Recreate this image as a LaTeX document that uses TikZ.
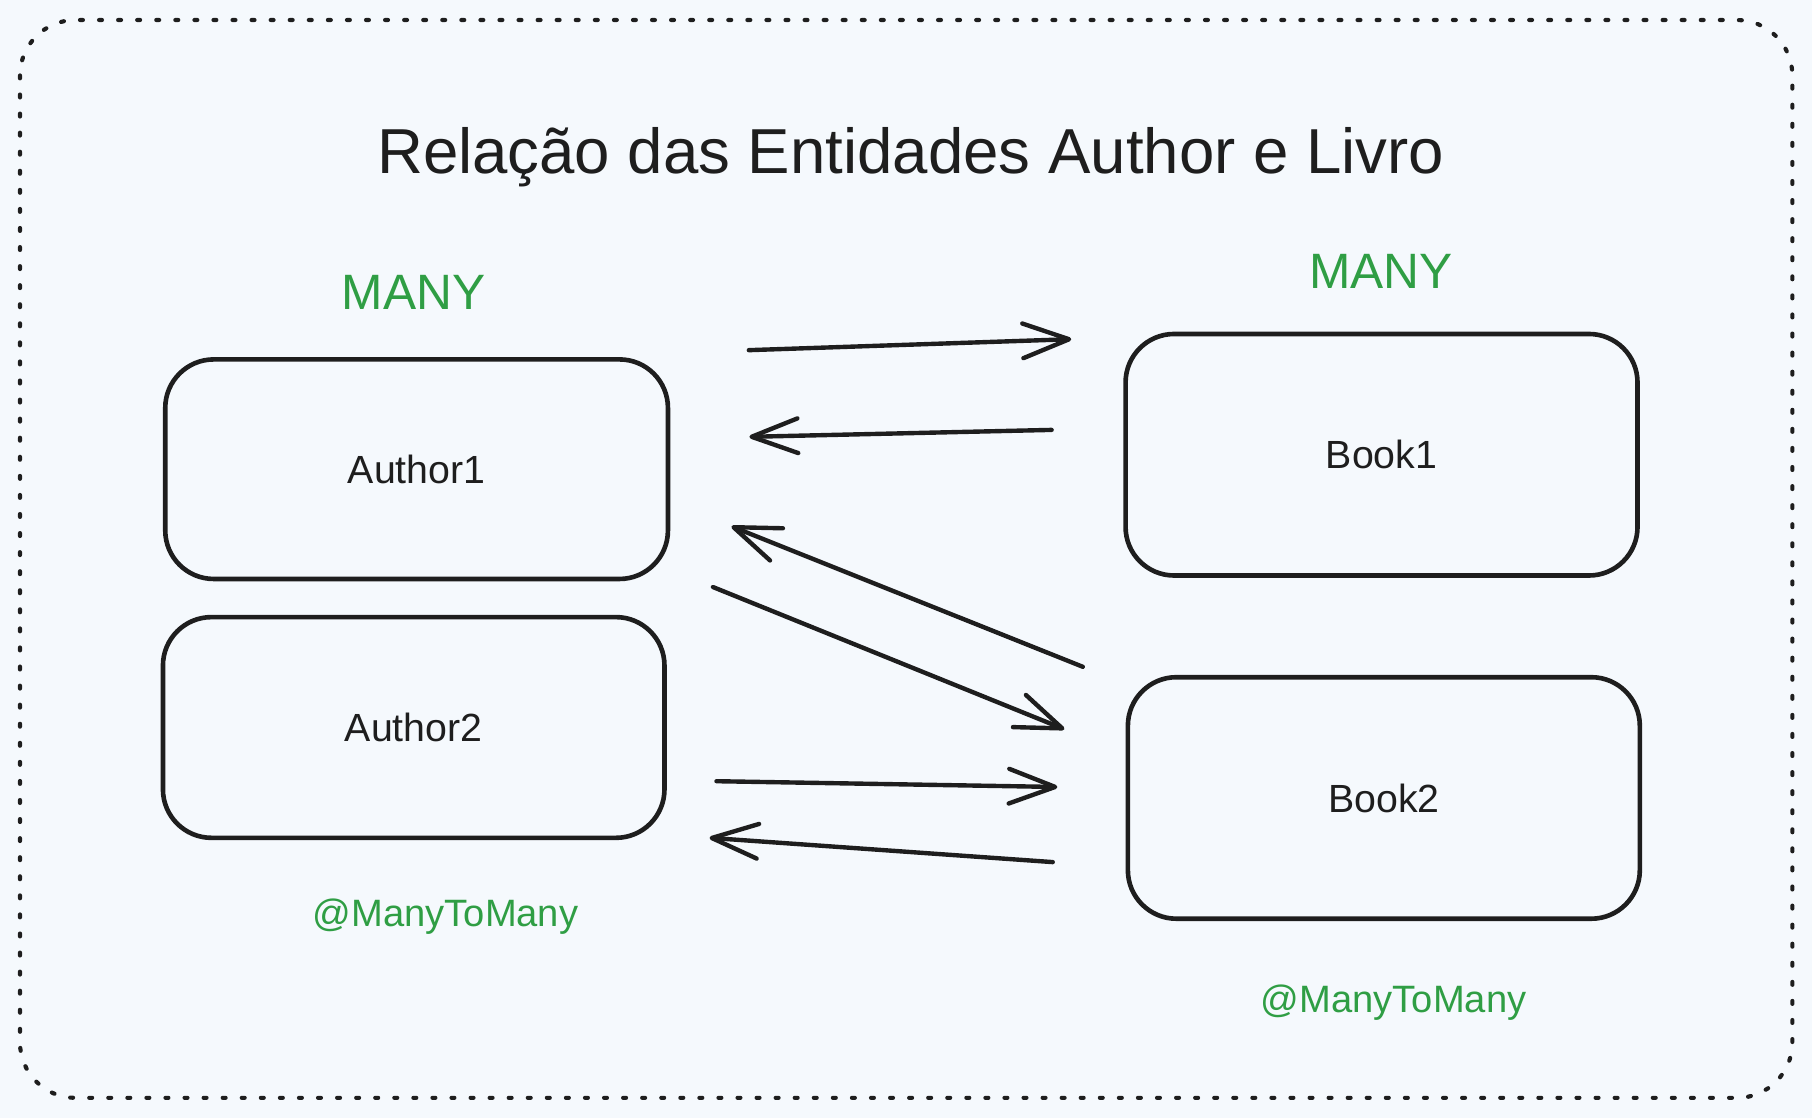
\documentclass[tikz,border=0pt]{standalone}
\usepackage{fontspec}
\setmainfont{Liberation Sans}
\usetikzlibrary{arrows.meta}
\definecolor{ink}{HTML}{1E1E1E}
\definecolor{leaf}{HTML}{2F9E44}
\definecolor{paper}{HTML}{F5F9FD}
\begin{document}
\begin{tikzpicture}[x=1pt,y=-1pt,
  entity/.style={draw=ink, line width=4pt, rounded corners=42pt,
    text=ink, font=\fontsize{34}{40}\selectfont, inner sep=0pt},
  titletext/.style={text=ink, font=\fontsize{55}{62}\selectfont, anchor=base, inner sep=0pt},
  manytext/.style={text=leaf, font=\fontsize{43}{50}\selectfont, anchor=base, inner sep=0pt},
  annot/.style={text=leaf, font=\fontsize{33}{40}\selectfont, anchor=base, inner sep=0pt},
  link/.style={draw=ink, line width=3.8pt, line cap=round, line join=round,
    -{Straight Barb[length=40pt, width=30pt, line cap=round, line join=round]}},
  frame/.style={draw=ink, line width=3.6pt, dash pattern=on 2.5pt off 14pt,
    line cap=round, rounded corners=48pt}]
  % canvas
  \fill[paper] (0,0) rectangle (1568,967.5);
  \useasboundingbox (0,0) rectangle (1568,967.5);
  \path[frame] (17.3,17.3) rectangle (1551,950);

  % title
  \node[titletext] (title) at (788,150) {Relação das Entidades Author e Livro};

  % cardinalities
  \node[manytext] (manyL) at (358,268) {MANY};
  \node[manytext] (manyR) at (1195,250) {MANY};

  % entities
  \node[entity, minimum width=435pt, minimum height=190pt] (author1) at (360.5,406) {Author1};
  \node[entity, minimum width=434pt, minimum height=191pt] (author2) at (358,629.5) {Author2};
  \node[entity, minimum width=443pt, minimum height=209pt] (book1) at (1195.5,393.5) {Book1};
  \node[entity, minimum width=443pt, minimum height=209pt] (book2) at (1197.5,690.5) {Book2};

  % annotations
  \node[annot] (annL) at (385.5,802) {@ManyToMany};
  \node[annot] (annR) at (1206,876) {@ManyToMany};

  % connector end points
  \coordinate (a1s) at (648,303);
  \coordinate (a1e) at (927,293.5);
  \coordinate (a2s) at (910,372);
  \coordinate (a2e) at (648.5,378);
  \coordinate (a3s) at (937,577);
  \coordinate (a3e) at (633,455.5);
  \coordinate (a4s) at (617,508);
  \coordinate (a4e) at (921,631);
  \coordinate (a5s) at (620,676);
  \coordinate (a5e) at (915,681);
  \coordinate (a6s) at (911,746);
  \coordinate (a6e) at (614,725);

  % connectors
  \draw[link] (a1s) -- (a1e);
  \draw[link] (a2s) -- (a2e);
  \draw[link] (a3s) -- (a3e);
  \draw[link] (a4s) -- (a4e);
  \draw[link] (a5s) -- (a5e);
  \draw[link] (a6s) -- (a6e);
\end{tikzpicture}
\end{document}
